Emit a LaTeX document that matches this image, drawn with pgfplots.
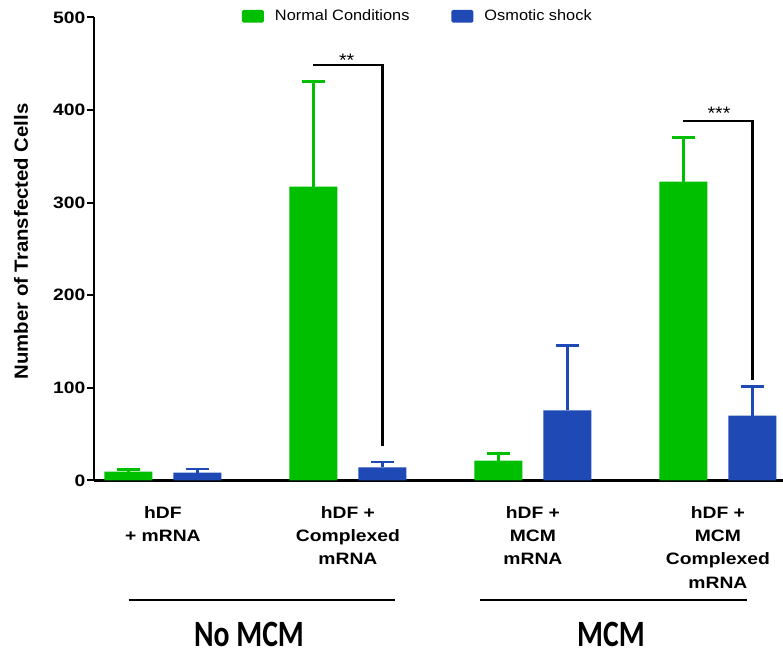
\documentclass[border=0pt]{standalone}
\usepackage{pgfplots}
\pgfplotsset{compat=1.18}
\usepackage{graphicx}
\usepackage{fontspec}
\setmainfont{Liberation Sans}
\newfontfamily\labfont[FakeStretch=1.17]{Liberation Sans}
\newfontfamily\ylfont[FakeStretch=1.065]{Liberation Sans}
\newfontfamily\legfont[FakeStretch=1.09]{Liberation Sans}
\newfontfamily\grpfont{Carlito}
\definecolor{ngreen}{RGB}{0,190,0}
\definecolor{oblue}{RGB}{31,74,181}
\begin{document}
\begin{tikzpicture}
\path[use as bounding box] (0,0) rectangle (783bp,655bp);
\begin{axis}[
  at={(94bp,174.5bp)}, anchor=south west,
  scale only axis, width=689bp, height=463bp,
  xmin=-0.3724, xmax=3.3519, ymin=0, ymax=500,
  axis x line=bottom, axis y line=left,
  axis line style={-, line width=2.5bp, black},
  xtick={0,1,2,3},
  xticklabels={{hDF\\+ mRNA},{hDF +\\Complexed\\mRNA},{hDF +\\MCM\\mRNA},{hDF +\\MCM\\Complexed\\mRNA}},
  x tick style={draw=none},
  xticklabel style={align=center, anchor=north, inner sep=0pt, yshift=-18.5bp, font={\labfont\bfseries\fontsize{16.5bp}{23.3bp}\selectfont}},
  ytick={0,100,200,300,400,500},
  y tick style={line width=2bp, black},
  tick align=outside, major tick length=7bp,
  yticklabel style={font={\labfont\bfseries\fontsize{16.5bp}{20bp}\selectfont}, inner sep=1.5bp},
  /pgf/number format/assume math mode=true,
  ybar, bar width=0.2595, bar shift=0pt,
  clip=false,
  legend image code/.code={\fill[rounded corners=1.5bp] (0bp,-6.3bp) rectangle (22bp,6.3bp);},
  legend style={at={(axis description cs:0.2148,1)}, anchor=west, yshift=1.2bp, draw=none, fill=none,
    inner sep=0pt, outer sep=0pt, legend columns=2,
    font={\legfont\fontsize{15bp}{18bp}\selectfont}, nodes={inner sep=0pt},
    /tikz/every odd column/.append style={column sep=11bp},
    /tikz/every even column/.append style={column sep=42bp}},
]
\addplot[fill=ngreen, draw=none,
  error bars/.cd, y dir=plus, y explicit,
  error bar style={line width=2.5bp, ngreen},
  error mark options={line width=2.5bp, mark size=11.5bp, rotate=90, ngreen}]
  coordinates {(-0.1865,9.5) +- (0,2.6) (0.8135,317.3) +- (0,113.4) (1.8135,21.4) +- (0,8) (2.8135,322.7) +- (0,47.5)};
\addlegendentry{Normal Conditions}
\addplot[fill=oblue, draw=none,
  error bars/.cd, y dir=plus, y explicit,
  error bar style={line width=2.5bp, oblue},
  error mark options={line width=2.5bp, mark size=11.5bp, rotate=90, oblue}]
  coordinates {(0.1865,8.4) +- (0,4) (1.1865,14.3) +- (0,5.7) (2.1865,75.8) +- (0,69.8) (3.1865,70) +- (0,31.7)};
\addlegendentry{Osmotic shock}
\draw[line width=2.5bp, black] (axis cs:0.8135,448.5) -- (axis cs:1.1865,448.5) -- (axis cs:1.1865,37);
\node[font={\legfont\fontsize{18bp}{18bp}\selectfont}, anchor=base, inner sep=0pt] at (axis cs:0.9935,447) {**};
\draw[line width=2.5bp, black] (axis cs:2.8135,388) -- (axis cs:3.1865,388) -- (axis cs:3.1865,109);
\node[font={\legfont\fontsize{18bp}{18bp}\selectfont}, anchor=base, inner sep=0pt] at (axis cs:3.006,390) {***};
\end{axis}
\node[rotate=90, font={\ylfont\bfseries\fontsize{19.1bp}{20bp}\selectfont}] at (21bp,413.5bp) {Number of Transfected Cells};
\draw[line width=2bp] (128.5bp,54.5bp) -- (394.5bp,54.5bp);
\draw[line width=2bp] (480bp,54.5bp) -- (747bp,54.5bp);
\node[anchor=base, inner sep=0pt, font={\grpfont\bfseries\fontsize{29.7bp}{30bp}\selectfont}] at (249bp,8.5bp) {\scalebox{1}[1.25]{No MCM}};
\node[anchor=base, inner sep=0pt, font={\grpfont\bfseries\fontsize{29.7bp}{30bp}\selectfont}] at (611bp,8.5bp) {\scalebox{1}[1.25]{MCM}};
\end{tikzpicture}
\end{document}
